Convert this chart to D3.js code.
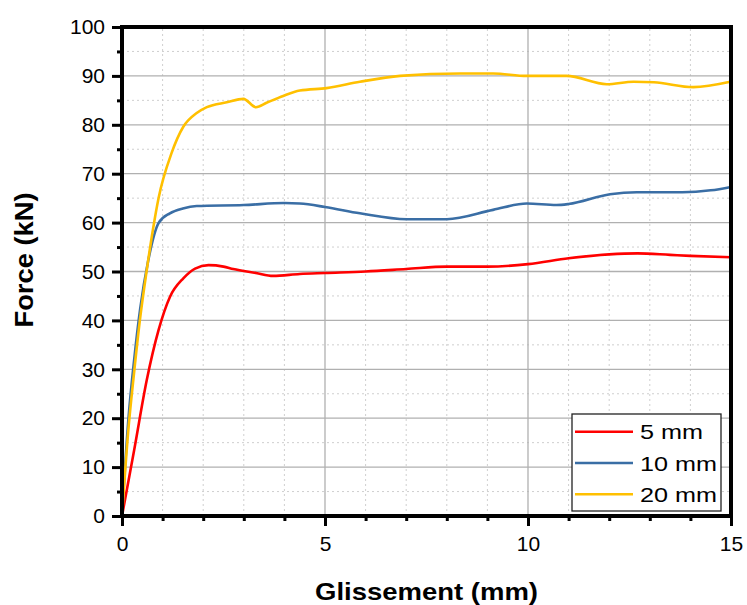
<!DOCTYPE html>
<html>
<head>
<meta charset="utf-8">
<script src="https://cdn.jsdelivr.net/npm/d3@7"></script>
<style>
  body { margin: 0; background: #fff; }
  svg text { font-family: "Liberation Sans", Arial, sans-serif; }
</style>
</head>
<body>
<svg id="chart" width="747" height="605"></svg>
<script>
// Slip (mm) vs force (kN) for three specimen sizes
const xTicks = [0, 5, 10, 15];
const yTicks = [0, 10, 20, 30, 40, 50, 60, 70, 80, 90, 100];
const seriesNames = ["5 mm", "10 mm", "20 mm"];
const seriesColors = ["#ff0000", "#3a6ea5", "#ffc000"];

const slip5 = [0, 0.3, 0.61, 0.9, 1.18, 1.51, 1.8, 2.13, 2.5, 2.74, 3.3, 3.72, 4.38, 5, 6, 7, 8, 9, 10, 11, 12, 12.7, 13.5, 14, 15];
const force5 = [0, 13.5, 27.8, 38, 44.8, 48.6, 50.6, 51.3, 51, 50.5, 49.7, 49.1, 49.5, 49.7, 50, 50.5, 51, 51, 51.5, 52.7, 53.5, 53.7, 53.4, 53.2, 52.9];

const slip10 = [0, 0.15, 0.3, 0.45, 0.64, 0.9, 1.18, 1.5, 1.84, 3, 4, 4.38, 5, 5.86, 7.01, 8, 9.14, 9.97, 10.7, 11, 12.02, 12.68, 13.8, 14.5, 15];
const force10 = [0, 19, 32, 42.5, 52, 59.9, 61.9, 62.9, 63.4, 63.6, 64, 63.9, 63.2, 61.9, 60.7, 60.7, 62.6, 63.9, 63.6, 63.8, 65.8, 66.2, 66.2, 66.6, 67.3];

const slip20 = [0, 0.15, 0.3, 0.44, 0.61, 0.76, 0.9, 1.22, 1.51, 1.84, 2.09, 2.58, 2.99, 3.3, 3.56, 3.97, 4.38, 5.04, 5.86, 6.85, 8.33, 9.14, 9.97, 10.95, 11.94, 12.6, 13.1, 14.07, 14.98];
const force20 = [0, 17, 29.5, 40, 50.3, 58.5, 65, 74.2, 79.6, 82.4, 83.6, 84.6, 85.3, 83.6, 84.5, 85.9, 87, 87.5, 88.8, 90, 90.5, 90.5, 90, 90, 88.3, 88.8, 88.7, 87.7, 88.8];

const series = [
  { name: seriesNames[0], color: seriesColors[0], xs: slip5, ys: force5, len: 63 },
  { name: seriesNames[1], color: seriesColors[1], xs: slip10, ys: force10, len: 77 },
  { name: seriesNames[2], color: seriesColors[2], xs: slip20, ys: force20, len: 77 }
];

const W = 747, H = 605;
const margin = { left: 122, right: W - 731, top: 27, bottom: H - 516 };
const svg = d3.select("#chart");

const x = d3.scaleLinear().domain([0, 15]).range([margin.left, W - margin.right]);
const y = d3.scaleLinear().domain([0, 100]).range([H - margin.bottom, margin.top]);

// grid: minor dotted, major solid
const g = svg.append("g");
d3.range(1, 15).filter(v => v % 5 !== 0).forEach(v => {
  g.append("line").attr("x1", x(v)).attr("x2", x(v)).attr("y1", y(0)).attr("y2", y(100))
    .attr("stroke", "#cfcfcf").attr("stroke-width", 1).attr("stroke-dasharray", "2,3");
});
d3.range(5, 100, 10).forEach(v => {
  g.append("line").attr("x1", x(0)).attr("x2", x(15)).attr("y1", y(v)).attr("y2", y(v))
    .attr("stroke", "#cfcfcf").attr("stroke-width", 1).attr("stroke-dasharray", "2,3");
});
[5, 10].forEach(v => {
  g.append("line").attr("x1", x(v)).attr("x2", x(v)).attr("y1", y(0)).attr("y2", y(100))
    .attr("stroke", "#b0b0b0").attr("stroke-width", 1.3);
});
d3.range(10, 100, 10).forEach(v => {
  g.append("line").attr("x1", x(0)).attr("x2", x(15)).attr("y1", y(v)).attr("y2", y(v))
    .attr("stroke", "#b0b0b0").attr("stroke-width", 1.3);
});

// curves
const line = d3.line().x(d => x(d[0])).y(d => y(d[1])).curve(d3.curveMonotoneX);
series.forEach(s => {
  svg.append("path")
    .datum(s.xs.map((v, i) => [v, s.ys[i]]))
    .attr("fill", "none").attr("stroke", s.color).attr("stroke-width", 2.6)
    .attr("stroke-linejoin", "round")
    .attr("d", line);
});

// frame
svg.append("rect").attr("x", x(0)).attr("y", y(100)).attr("width", x(15) - x(0)).attr("height", y(0) - y(100))
  .attr("fill", "none").attr("stroke", "#000").attr("stroke-width", 4);

// axes
const xAxis = svg.append("g").attr("transform", `translate(0,${y(0)})`)
  .call(d3.axisBottom(x).tickValues(xTicks).tickSize(10).tickPadding(6).tickFormat(d3.format("d")));
const xMinor = svg.append("g").attr("transform", `translate(0,${y(0)})`)
  .call(d3.axisBottom(x).tickValues(d3.range(0, 16).filter(v => v % 5 !== 0)).tickSize(5).tickFormat(""));
const yAxis = svg.append("g").attr("transform", `translate(${x(0)},0)`)
  .call(d3.axisLeft(y).tickValues(yTicks).tickSize(10).tickPadding(7).tickFormat(d3.format("d")));
const yMinor = svg.append("g").attr("transform", `translate(${x(0)},0)`)
  .call(d3.axisLeft(y).tickValues(d3.range(5, 100, 10)).tickSize(5).tickFormat(""));
[xAxis, xMinor, yAxis, yMinor].forEach(a => {
  a.select(".domain").remove();
  a.selectAll(".tick line").attr("stroke", "#000").attr("stroke-width", 3);
  a.selectAll("text").attr("font-size", 21).attr("fill", "#000");
});
xAxis.selectAll("text").attr("dy", "0.9em");

// axis titles
svg.append("text").attr("x", (x(0) + x(15)) / 2).attr("y", 600)
  .attr("text-anchor", "middle").attr("font-size", 24).attr("font-weight", "bold")
  .attr("textLength", 223).attr("lengthAdjust", "spacingAndGlyphs")
  .text("Glissement (mm)");
svg.append("text").attr("transform", "translate(33,260) rotate(-90)")
  .attr("text-anchor", "middle").attr("font-size", 25).attr("font-weight", "bold")
  .attr("textLength", 135).attr("lengthAdjust", "spacingAndGlyphs")
  .text("Force (kN)");

// legend
const lg = svg.append("g").attr("transform", "translate(572,414)");
lg.append("rect").attr("width", 149).attr("height", 97)
  .attr("fill", "#fff").attr("stroke", "#222").attr("stroke-width", 1.3);
series.forEach((s, i) => {
  const cy = 17.7 + i * 31.3;
  lg.append("line").attr("x1", 3).attr("x2", 61).attr("y1", cy).attr("y2", cy)
    .attr("stroke", s.color).attr("stroke-width", 2.6);
  lg.append("text").attr("x", 68).attr("y", cy).attr("dy", "0.36em")
    .attr("font-size", 21).attr("textLength", s.len).attr("lengthAdjust", "spacingAndGlyphs")
    .text(s.name);
});
</script>
</body>
</html>
